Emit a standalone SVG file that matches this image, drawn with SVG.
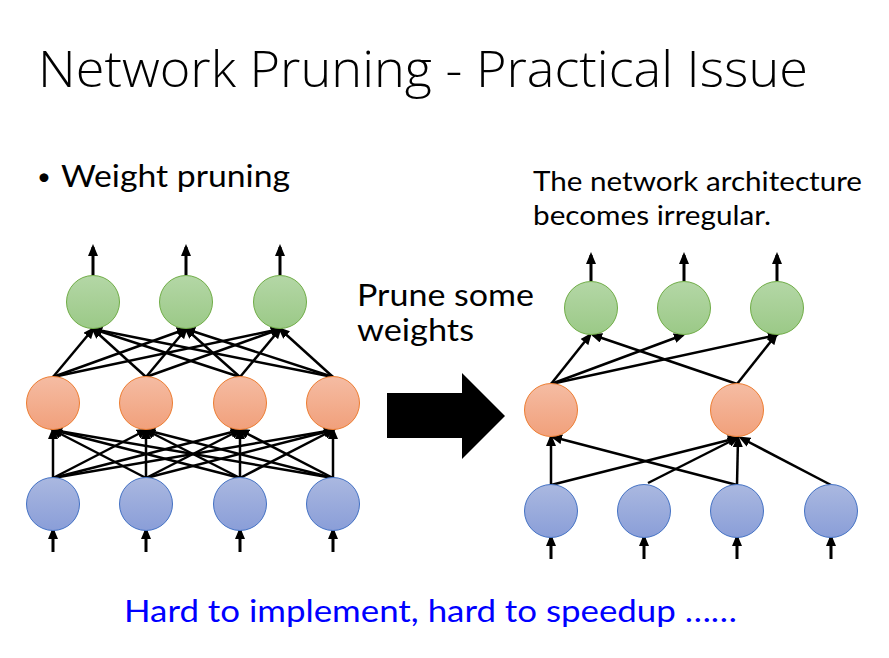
<svg xmlns="http://www.w3.org/2000/svg" width="889" height="658" viewBox="0 0 889 658">
<style>
text{font-family:Lato,"Open Sans","DejaVu Sans",sans-serif;fill:#000}
.t{font-family:"Open Sans","Noto Sans",sans-serif;font-size:50px;font-weight:300}
.b{font-size:30px}
.s{font-size:26px}
.blue{fill:#0000ff}
.g{fill:url(#gg);stroke:#70ad47;stroke-width:1}
.o{fill:url(#go);stroke:#ed7d31;stroke-width:1}
.u{fill:url(#gb);stroke:#4472c4;stroke-width:1}
.c line{stroke:#000;stroke-width:2.5;marker-end:url(#ah)}
.io line{stroke:#000;stroke-width:3;marker-end:url(#ah2)}
</style>
<defs>
<linearGradient id="gg" x1="0" y1="0" x2="0" y2="1"><stop offset="0" stop-color="#b4d7a6"/><stop offset="1" stop-color="#9bc987"/></linearGradient>
<linearGradient id="go" x1="0" y1="0" x2="0" y2="1"><stop offset="0" stop-color="#f5bca3"/><stop offset="1" stop-color="#f1a07b"/></linearGradient>
<linearGradient id="gb" x1="0" y1="0" x2="0" y2="1"><stop offset="0" stop-color="#aab8e0"/><stop offset="1" stop-color="#8a9ed8"/></linearGradient>
<marker id="ah" markerUnits="userSpaceOnUse" markerWidth="12" markerHeight="10" refX="9" refY="5" orient="auto"><path d="M0,0 L12,5 L0,10 z" fill="#000"/></marker>
<marker id="ah2" markerUnits="userSpaceOnUse" markerWidth="12" markerHeight="10" refX="9" refY="5" orient="auto"><path d="M0,0 L12,5 L0,10 z" fill="#000"/></marker>
</defs>
<rect width="889" height="658" fill="#fff"/>

<text class="t" x="38" y="87" textLength="770" lengthAdjust="spacingAndGlyphs">Network Pruning - Practical Issue</text>
<text x="37" y="185" font-size="24">•</text>
<text class="b" x="61" y="187" textLength="229" lengthAdjust="spacingAndGlyphs">Weight pruning</text>
<text class="s" x="533" y="191" textLength="329" lengthAdjust="spacingAndGlyphs">The network architecture</text>
<text class="s" x="533" y="225" textLength="238" lengthAdjust="spacingAndGlyphs">becomes irregular.</text>
<text class="b" x="357" y="306" textLength="177" lengthAdjust="spacingAndGlyphs">Prune some</text>
<text class="b" x="357" y="341" textLength="117" lengthAdjust="spacingAndGlyphs">weights</text>
<text class="b blue" x="124" y="622" textLength="613" lengthAdjust="spacingAndGlyphs">Hard to implement, hard to speedup ……</text>

<polygon id="bigArrow" points="387,393 462,393 462,373 505,416 462,459 462,438 387,438" fill="#000"/>

<g id="connectors">
<g class="c">
<line x1="53" y1="377" x2="93" y2="329"/>
<line x1="53" y1="377" x2="186" y2="329"/>
<line x1="53" y1="377" x2="280" y2="329"/>
<line x1="146" y1="377" x2="93" y2="329"/>
<line x1="146" y1="377" x2="186" y2="329"/>
<line x1="146" y1="377" x2="280" y2="329"/>
<line x1="240" y1="377" x2="93" y2="329"/>
<line x1="240" y1="377" x2="186" y2="329"/>
<line x1="240" y1="377" x2="280" y2="329"/>
<line x1="333" y1="377" x2="93" y2="329"/>
<line x1="333" y1="377" x2="186" y2="329"/>
<line x1="333" y1="377" x2="280" y2="329"/>
<line x1="53" y1="478" x2="53" y2="430"/>
<line x1="53" y1="478" x2="146" y2="430"/>
<line x1="53" y1="478" x2="240" y2="430"/>
<line x1="53" y1="478" x2="333" y2="430"/>
<line x1="146" y1="478" x2="53" y2="430"/>
<line x1="146" y1="478" x2="146" y2="430"/>
<line x1="146" y1="478" x2="240" y2="430"/>
<line x1="146" y1="478" x2="333" y2="430"/>
<line x1="240" y1="478" x2="53" y2="430"/>
<line x1="240" y1="478" x2="146" y2="430"/>
<line x1="240" y1="478" x2="240" y2="430"/>
<line x1="240" y1="478" x2="333" y2="430"/>
<line x1="333" y1="478" x2="53" y2="430"/>
<line x1="333" y1="478" x2="146" y2="430"/>
<line x1="333" y1="478" x2="240" y2="430"/>
<line x1="333" y1="478" x2="333" y2="430"/>

<line x1="551" y1="384" x2="590" y2="335"/>
<line x1="551" y1="384" x2="683" y2="335"/>
<line x1="551" y1="384" x2="777" y2="335"/>
<line x1="737" y1="384" x2="593" y2="335"/>
<line x1="737" y1="384" x2="776" y2="335"/>
<line x1="551" y1="485" x2="551" y2="437"/>
<line x1="551" y1="485" x2="737" y2="438"/>
<line x1="648" y1="483" x2="737" y2="438"/>
<line x1="737" y1="485" x2="553" y2="437"/>
<line x1="737" y1="485" x2="738" y2="438"/>
<line x1="831" y1="485" x2="741" y2="438"/>
</g>
<g class="io">
<line x1="93" y1="275" x2="93" y2="247"/>
<line x1="186" y1="275" x2="186" y2="247"/>
<line x1="280" y1="275" x2="280" y2="247"/>
<line x1="53" y1="552" x2="53" y2="530"/>
<line x1="146" y1="552" x2="146" y2="530"/>
<line x1="240" y1="552" x2="240" y2="530"/>
<line x1="333" y1="552" x2="333" y2="530"/>
<line x1="591" y1="281" x2="591" y2="255"/>
<line x1="684" y1="281" x2="684" y2="255"/>
<line x1="777" y1="281" x2="777" y2="255"/>
<line x1="551" y1="559" x2="551" y2="537"/>
<line x1="644" y1="559" x2="644" y2="537"/>
<line x1="737" y1="559" x2="737" y2="537"/>
<line x1="831" y1="559" x2="831" y2="537"/>
</g>
</g>

<g id="L-out1"><circle class="g" cx="93" cy="302" r="26.5"/></g>
<g id="L-out2"><circle class="g" cx="186" cy="302" r="26.5"/></g>
<g id="L-out3"><circle class="g" cx="280" cy="302" r="26.5"/></g>
<g id="L-hid1"><circle class="o" cx="53" cy="403" r="26.5"/></g>
<g id="L-hid2"><circle class="o" cx="146" cy="403" r="26.5"/></g>
<g id="L-hid3"><circle class="o" cx="240" cy="403" r="26.5"/></g>
<g id="L-hid4"><circle class="o" cx="333" cy="403" r="26.5"/></g>
<g id="L-in1"><circle class="u" cx="53" cy="504" r="26.5"/></g>
<g id="L-in2"><circle class="u" cx="146" cy="504" r="26.5"/></g>
<g id="L-in3"><circle class="u" cx="240" cy="504" r="26.5"/></g>
<g id="L-in4"><circle class="u" cx="333" cy="504" r="26.5"/></g>

<g id="R-out1"><circle class="g" cx="591" cy="308" r="26.5"/></g>
<g id="R-out2"><circle class="g" cx="684" cy="308" r="26.5"/></g>
<g id="R-out3"><circle class="g" cx="777" cy="308" r="26.5"/></g>
<g id="R-hid1"><circle class="o" cx="551" cy="410" r="26.5"/></g>
<g id="R-hid2"><circle class="o" cx="737" cy="410" r="26.5"/></g>
<g id="R-in1"><circle class="u" cx="551" cy="511" r="26.5"/></g>
<g id="R-in2"><circle class="u" cx="644" cy="511" r="26.5"/></g>
<g id="R-in3"><circle class="u" cx="737" cy="511" r="26.5"/></g>
<g id="R-in4"><circle class="u" cx="831" cy="511" r="26.5"/></g>
</svg>
